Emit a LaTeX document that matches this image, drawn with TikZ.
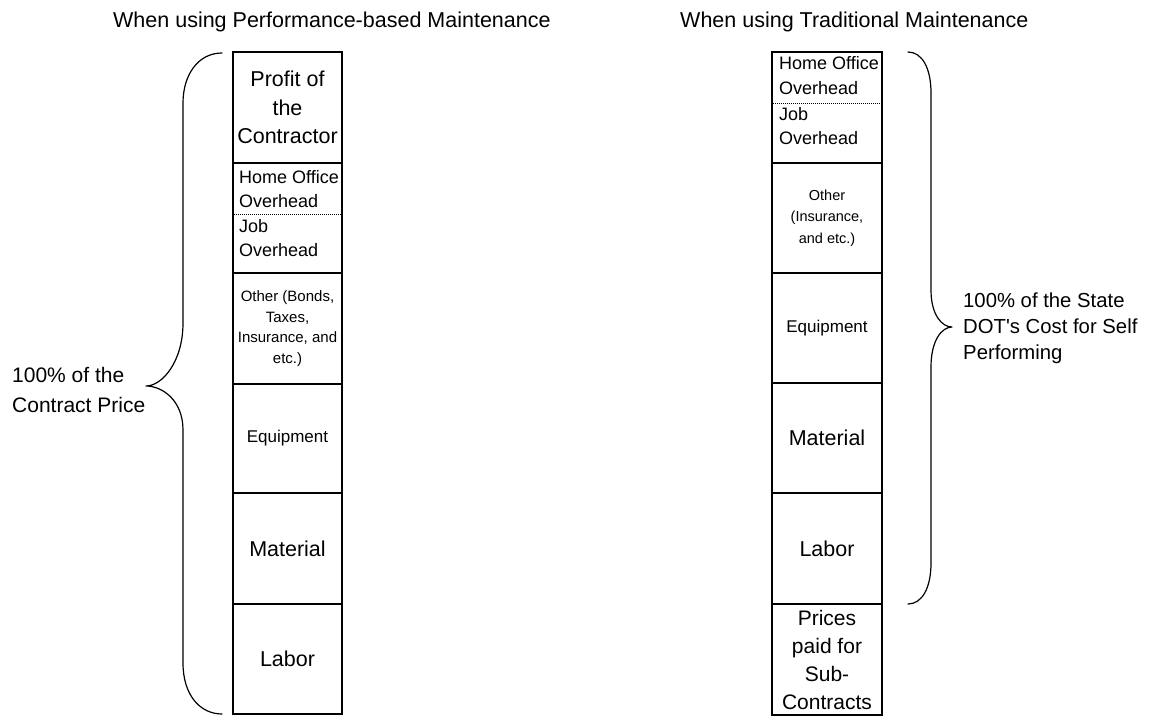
\documentclass[tikz,border=0pt]{standalone}
\usepackage{fontspec}
\setmainfont{Liberation Sans}
\begin{document}
\begin{tikzpicture}[x=1pt,y=-1pt,
  cell/.style={draw, line width=1.3pt, inner sep=0pt, align=center},
  lcol/.style={cell, minimum width=109pt},
  rcol/.style={cell, minimum width=110pt},
  brace/.style={line width=1.2pt, line cap=round, line join=round},
  sep/.style={line width=0.8pt, dash pattern=on 1pt off 1pt},
  title/.style={font=\fontsize{21.5}{26}\selectfont, inner sep=0pt, anchor=base west},
  big/.style={font=\fontsize{21.5}{28.5}\selectfont},
  mid/.style={font=\fontsize{17}{21}\selectfont},
  ovh/.style={font=\fontsize{18}{24}\selectfont, inner sep=0pt, anchor=base west},
  lbl/.style={inner sep=0pt, anchor=base west, align=left}
]
\useasboundingbox (0,0) rectangle (1154,717);

% headings
\node[title] (tl) at (113,28) {When using Performance-based Maintenance};
\node[title] (tr) at (680,28) {When using Traditional Maintenance};

% performance-based column
\node[lcol, big, minimum height=111pt] (lprofit) at (287.5,107.5) {Profit of\\the\\Contractor};
\node[lcol, minimum height=110pt] (lover) at (287.5,218) {};
\node[lcol, font=\fontsize{15}{20.5}\selectfont, minimum height=111pt] (lother) at (287.5,328.5) {Other (Bonds,\\Taxes,\\Insurance, and\\etc.)};
\node[lcol, mid, minimum height=109pt] (lequip) at (287.5,438.5) {Equipment};
\node[lcol, big, minimum height=111pt] (lmat) at (287.5,548.5) {Material};
\node[lcol, big, minimum height=110pt] (llab) at (287.5,659) {Labor};
\draw[sep] (lover.west |- 0,214) -- (lover.east |- 0,214);
\node[ovh] (lho1) at (239,183) {Home Office};
\node[ovh] (lho2) at (239,207) {Overhead};
\node[ovh] (ljo1) at (239,232) {Job};
\node[ovh] (ljo2) at (239,256) {Overhead};

% traditional column
\node[rcol, minimum height=111pt] (rover) at (827,107.5) {};
\node[rcol, font=\fontsize{14.5}{21.5}\selectfont, minimum height=110pt] (rother) at (827,218) {Other\\(Insurance,\\and etc.)};
\node[rcol, mid, minimum height=110pt] (requip) at (827,328) {Equipment};
\node[rcol, big, minimum height=110pt] (rmat) at (827,438) {Material};
\node[rcol, big, minimum height=111pt] (rlab) at (827,548.5) {Labor};
\node[rcol, font=\fontsize{21}{28}\selectfont, minimum height=111pt] (rsub) at (827,659.5) {Prices\\paid for\\Sub-\\Contracts};
\draw[sep] (rover.west |- 0,103) -- (rover.east |- 0,103);
\node[ovh] (rho1) at (779,70) {Home Office};
\node[ovh] (rho2) at (779,95) {Overhead};
\node[ovh] (rjo1) at (779,120) {Job};
\node[ovh] (rjo2) at (779,144) {Overhead};

% left brace
\draw[brace] (222,53) .. controls (198,53) and (183,75) .. (183,103)
  -- (183,323) .. controls (183,362) and (162,386) .. (146,386)
  .. controls (162,386) and (183,400) .. (183,430)
  -- (183,663) .. controls (183,695) and (200,714) .. (222,714);
\node[lbl, font=\fontsize{21}{30}\selectfont] (lsum) at (12,412) {100\% of the\\Contract Price};

% right brace
\draw[brace] (908,52) .. controls (922,52) and (931,68) .. (931,93)
  -- (931,290) .. controls (931,315) and (942,327) .. (952,327)
  .. controls (942,327) and (931,340) .. (931,367)
  -- (931,563) .. controls (931,588) and (922,604) .. (908,604);
\node[lbl, font=\fontsize{20.3}{26}\selectfont] (rsum) at (963,359) {100\% of the State\\DOT\textquotesingle s Cost for Self\\Performing};
\end{tikzpicture}
\end{document}
